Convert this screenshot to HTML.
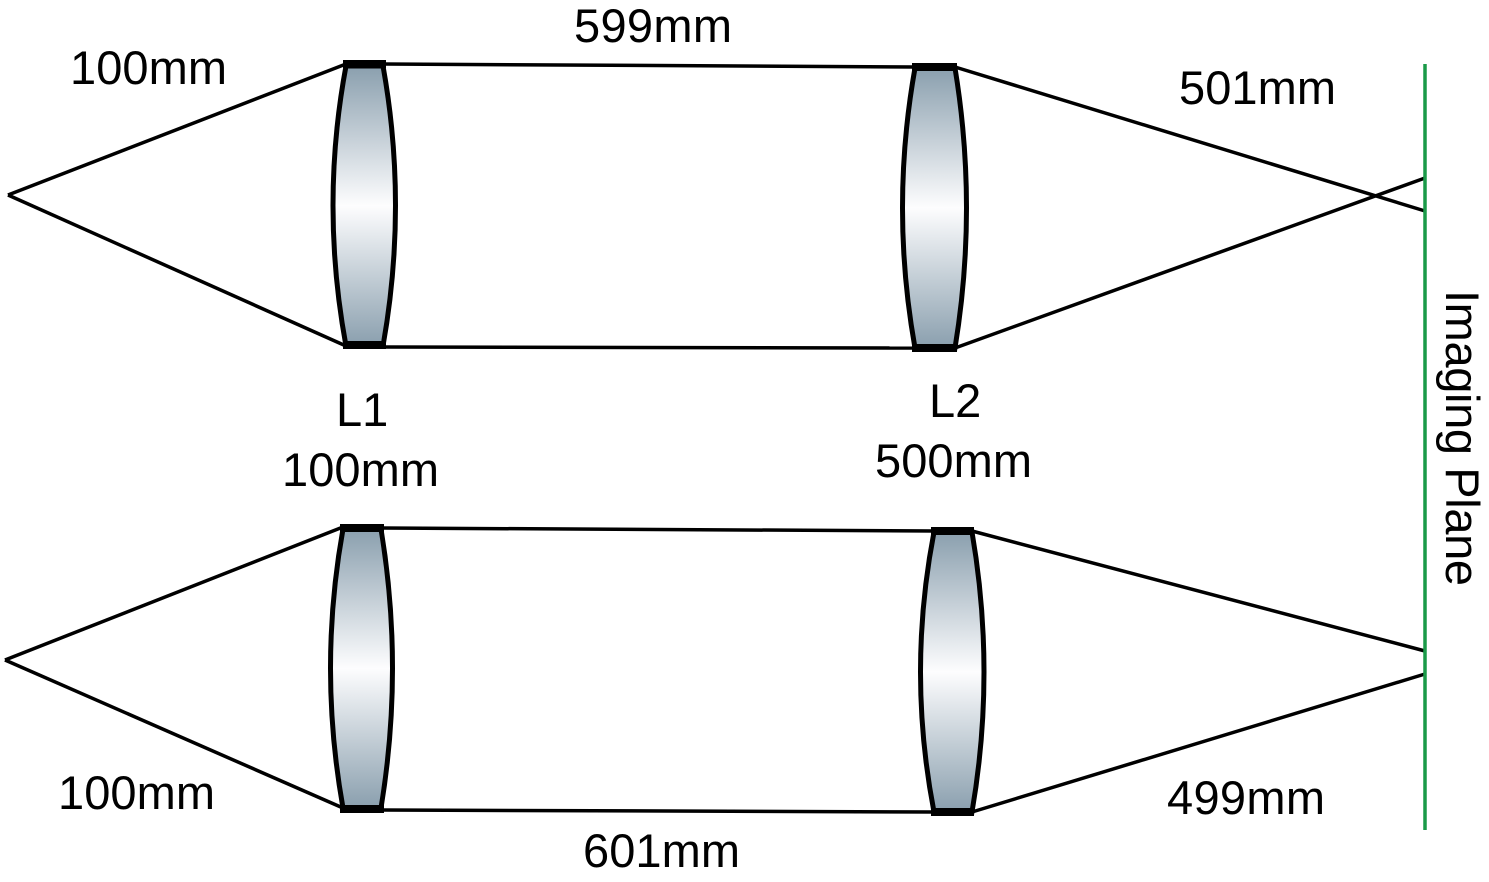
<!DOCTYPE html>
<html><head><meta charset="utf-8"><style>
html,body{margin:0;padding:0;background:#fff;}
svg{display:block;}
text{font-family:"Liberation Sans",sans-serif;font-size:47px;fill:#000;}
</style></head><body>
<svg width="1489" height="882" viewBox="0 0 1489 882">
<defs>
<linearGradient id="lg" x1="0" y1="0" x2="0" y2="1">
<stop offset="0" stop-color="#8a9fae"/><stop offset="0.5" stop-color="#fdfdfe"/><stop offset="1" stop-color="#8a9fae"/>
</linearGradient>
</defs>
<g stroke="#000" stroke-width="3.5" fill="none">
<line x1="8" y1="195" x2="346" y2="64"/>
<line x1="8" y1="195" x2="346" y2="346"/>
<line x1="383" y1="64" x2="915" y2="67"/>
<line x1="383" y1="347" x2="915" y2="348"/>
<line x1="955" y1="67" x2="1425" y2="211"/>
<line x1="955" y1="348" x2="1425" y2="178"/>
</g>
<g stroke="#000" stroke-width="3.5" fill="none">
<line x1="5" y1="660" x2="343" y2="527"/>
<line x1="5" y1="660" x2="343" y2="808"/>
<line x1="382" y1="528" x2="935" y2="531"/>
<line x1="382" y1="810" x2="935" y2="812"/>
<line x1="972" y1="531" x2="1425" y2="651"/>
<line x1="972" y1="812" x2="1425" y2="674"/>
</g>
<line x1="1425" y1="64" x2="1425" y2="830" stroke="#1a9a48" stroke-width="3.5"/>
<g stroke="#000" stroke-width="5" fill="url(#lg)">
<path d="M346,66 Q320,205 346,346 L383,346 Q408,205 383,66 Z"/>
<path d="M915,68 Q890,208 915,348 L955,348 Q978,208 955,68 Z"/>
<path d="M343,529 Q318,668 343,808 L381,808 Q404,668 381,529 Z"/>
<path d="M934,532 Q907,672 934,812 L972,812 Q996,672 972,532 Z"/>
</g>
<g fill="#000">
<rect x="343" y="60" width="43" height="8"/><rect x="343" y="341" width="43" height="8"/>
<rect x="912" y="63" width="45" height="8"/><rect x="912" y="344" width="45" height="8"/>
<rect x="340" y="524" width="44" height="8"/><rect x="340" y="805" width="44" height="8"/>
<rect x="931" y="527" width="43" height="8"/><rect x="931" y="808" width="43" height="8"/>
</g>
<text x="70" y="84" textLength="157">100mm</text>
<text x="574" y="42" textLength="158">599mm</text>
<text x="1179" y="104" textLength="157">501mm</text>
<text x="336" y="426">L1</text>
<text x="282" y="486" textLength="157">100mm</text>
<text x="929" y="417">L2</text>
<text x="875" y="477" textLength="157">500mm</text>
<text x="58" y="809" textLength="157">100mm</text>
<text x="583" y="867" textLength="157">601mm</text>
<text x="1167" y="814" textLength="158">499mm</text>
<text transform="translate(1446,290) rotate(90)" textLength="296">Imaging Plane</text>
</svg>
</body></html>
